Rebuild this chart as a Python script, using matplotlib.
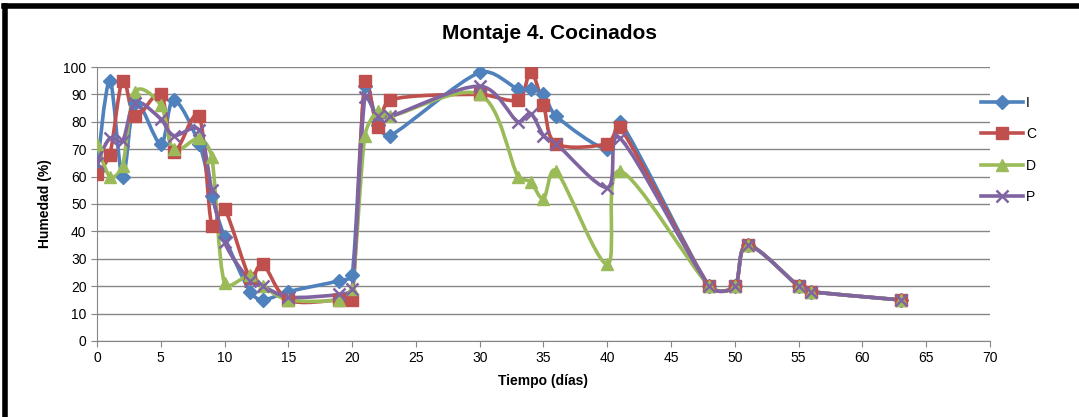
import numpy as np
import matplotlib
matplotlib.use("Agg")
import matplotlib.pyplot as plt
from matplotlib.path import Path
from matplotlib.patches import PathPatch
from matplotlib.lines import Line2D

# days of measurement
dias = [0, 1, 2, 3, 5, 6, 8, 9, 10, 12, 13, 15, 19, 20, 21, 22, 23, 30,
        33, 34, 35, 36, 40, 41, 48, 50, 51, 55, 56, 63]

hum_I = [62, 95, 60, 87, 72, 88, 72, 53, 38, 18, 15, 18, 22, 24, 93, 79, 75, 98,
         92, 92, 90, 82, 70, 80, 20, 20, 35, 20, 18, 15]
hum_C = [61, 68, 95, 82, 90, 69, 82, 42, 48, 23, 28, 15, 15, 15, 95, 78, 88, 90,
         88, 98, 86, 72, 72, 78, 20, 20, 35, 20, 18, 15]
hum_D = [72, 60, 64, 91, 86, 70, 74, 67, 21, 24, 20, 15, 15, 19, 75, 84, 82, 90,
         60, 58, 52, 62, 28, 62, 20, 20, 35, 20, 18, 15]
hum_P = [65, 74, 73, 87, 81, 75, 77, 55, 36, 22, 20, 16, 17, 19, 89, 82, 82, 93,
         80, 83, 75, 72, 56, 74, 20, 20, 35, 20, 18, 15]

series = [
    ("I", hum_I, "#4F81BD", "D", 7),
    ("C", hum_C, "#C0504D", "s", 8),
    ("D", hum_D, "#9BBB59", "^", 8),
    ("P", hum_P, "#8064A2", "x", 8),
]

XPX = 893 / 70.0   # rough pixel size of one day / one percent
YPX = 274 / 100.0


def smooth_path(x, y, clamp=0.35):
    # smoothed line like Excel: Catmull-Rom as cubic Bezier,
    # control arms limited so short segments don't overshoot
    x = np.asarray(x, float)
    y = np.asarray(y, float)
    n = len(x)
    pts = np.column_stack([x, y])
    px = np.array([XPX, YPX])
    c_out = pts.copy()
    c_in = pts.copy()
    for i in range(1, n - 1):
        t = (pts[i + 1] - pts[i - 1]) / 6
        arm = np.hypot(*(t * px))
        d0 = np.hypot(*((pts[i] - pts[i - 1]) * px))
        d1 = np.hypot(*((pts[i + 1] - pts[i]) * px))
        f_out = min(1.0, clamp * d1 / arm) if arm > 0 else 0
        f_in = min(1.0, clamp * d0 / arm) if arm > 0 else 0
        c_out[i] = pts[i] + t * f_out
        c_in[i] = pts[i] - t * f_in
    verts = [tuple(pts[0])]
    codes = [Path.MOVETO]
    for i in range(n - 1):
        verts += [tuple(c_out[i]), tuple(c_in[i + 1]), tuple(pts[i + 1])]
        codes += [Path.CURVE4] * 3
    return Path(verts, codes)


plt.rcParams['font.family'] = ['Liberation Sans', 'DejaVu Sans']

fig = plt.figure(figsize=(10.79, 4.17), dpi=100)
ax = fig.add_axes([0.0899, 0.1823, 0.8276, 0.6570])

for name, vals, col, mk, ms in series:
    ax.add_patch(PathPatch(smooth_path(dias, vals), facecolor="none",
                           edgecolor=col, lw=2.6, zorder=3))
    ax.plot(dias, vals, linestyle="none", marker=mk, color=col, ms=ms,
            mew=1.8 if mk == "x" else 1, zorder=4)

ax.set_xlim(0, 70)
ax.set_ylim(0, 100)
ax.set_xticks(range(0, 71, 5))
ax.set_yticks(range(0, 101, 10))
ax.tick_params(axis="both", labelsize=10, color="#868686", length=4)
ax.yaxis.grid(True, color="#868686", lw=1)
ax.set_axisbelow(True)
for s in ["top", "right"]:
    ax.spines[s].set_visible(False)
for s in ["left", "bottom"]:
    ax.spines[s].set_color("#868686")

ax.set_xlabel("Tiempo (días)", fontsize=10, fontweight="bold", labelpad=6)
ax.set_ylabel("Humedad (%)", fontsize=10, fontweight="bold", labelpad=8)
fig.text(0.509, 0.92, "Montaje 4. Cocinados", ha="center", va="center",
         fontsize=15, fontweight="bold")

handles = [Line2D([], [], color=col, lw=2.6, marker=mk, ms=ms,
                  mew=1.8 if mk == "x" else 1)
           for name, vals, col, mk, ms in series]
fig.legend(handles, [s[0] for s in series], loc="upper left",
           bbox_to_anchor=(0.898, 0.80), frameon=False, fontsize=10,
           labelspacing=1.25, handlelength=3, handletextpad=0.2)

# outer frame of the screenshot
fig.add_artist(Line2D([0.004, 1.0], [0.985, 0.985], color="black", lw=4))
fig.add_artist(Line2D([0.005, 0.005], [0.0, 0.985], color="black", lw=4))

fig.savefig("out.png", dpi=100)
